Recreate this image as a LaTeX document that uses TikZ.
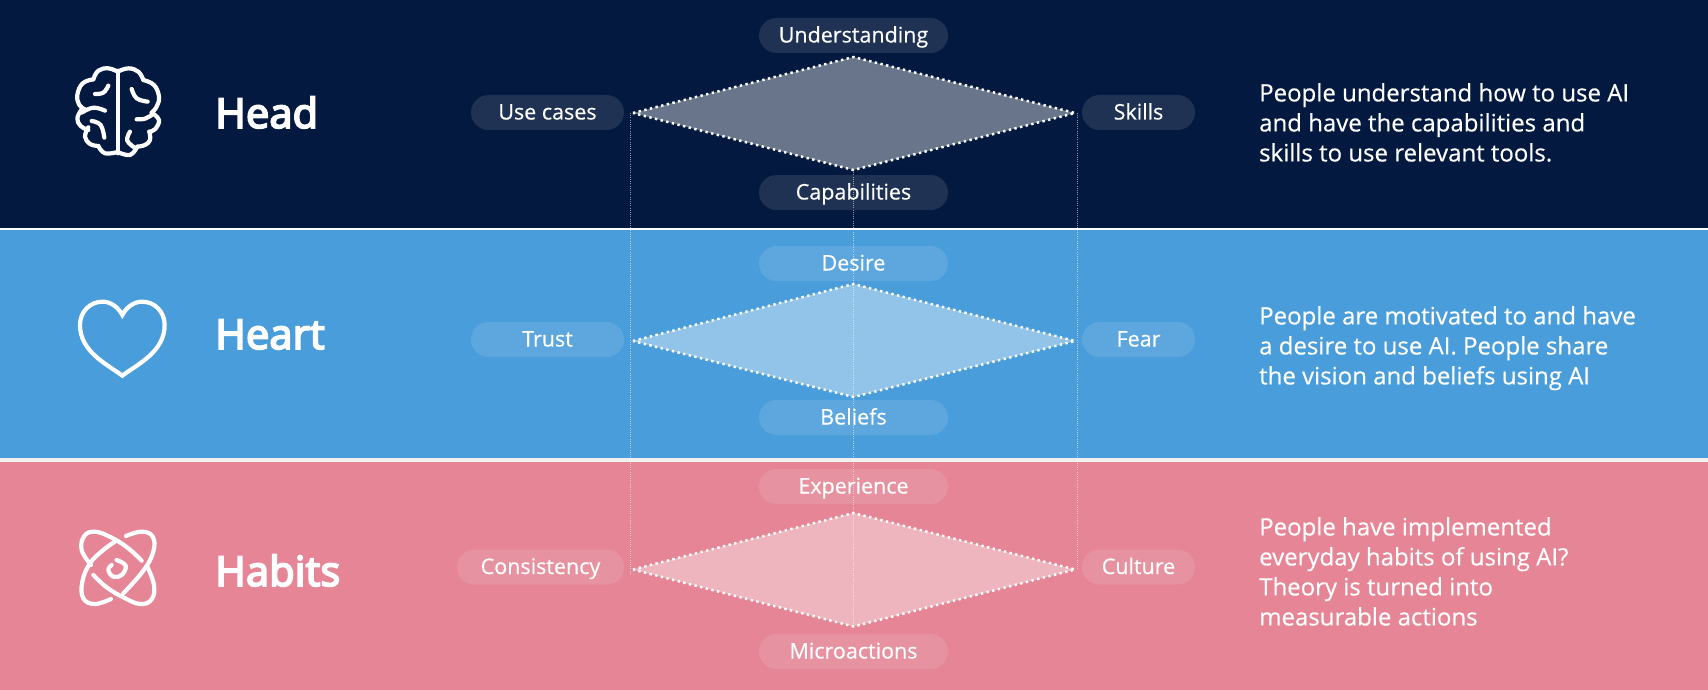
\documentclass[tikz,border=0pt]{standalone}
\usepackage{fontspec}
\newfontfamily\headfont[FakeBold=4]{Noto Sans}
\newfontfamily\bodyfont[FakeBold=0.4]{Open Sans}
\definecolor{navyband}{HTML}{04193F}
\definecolor{blueband}{HTML}{4A9DDB}
\definecolor{pinkband}{HTML}{E58595}
\definecolor{gapcolor}{HTML}{F0F0EE}
\tikzset{
  pill/.style={fill=white,fill opacity=.11,text opacity=1,text=white,rounded corners=17.5pt,minimum height=35pt,inner sep=0pt,text height=17pt,text depth=3pt,font=\bodyfont\fontsize{21.5}{24}\selectfont},
  widepill/.style={pill,minimum width=189pt},
  sidepill/.style={pill,minimum width=153pt},
  shortpill/.style={pill,minimum width=113pt},
  heading/.style={text=white,anchor=base west,inner sep=0pt,font=\headfont\fontsize{41.5}{46}\selectfont},
  description/.style={text=white,anchor=north west,inner sep=0pt,align=left,font=\bodyfont\fontsize{24}{30}\selectfont},
  kite/.style={fill=white,fill opacity=.4,draw=white,draw opacity=1,line width=2.5pt,dash pattern=on 2.4pt off 3.4pt},
  guide/.style={draw=white,draw opacity=.55,line width=.8pt,dash pattern=on 1pt off 1.2pt},
  icon/.style={draw=white,line width=4.2pt,line cap=round,line join=round}
}
\begin{document}
\begin{tikzpicture}[x=1pt,y=-1pt]
\useasboundingbox (0,0) rectangle (1708,690);
% bands
\fill[white] (0,0) rectangle (1708,690);
\fill[navyband] (0,0) rectangle (1708,228);
\fill[blueband] (0,230) rectangle (1708,458);
\fill[gapcolor] (0,458) rectangle (1708,462);
\fill[pinkband] (0,462) rectangle (1708,690);
% kite corners
\foreach \n/\t/\m/\b in {a/57/113/170,b/284/341/397,c/513/569.5/626.5}{
  \coordinate (\n L) at (633,\m);
  \coordinate (\n T) at (853.5,\t);
  \coordinate (\n R) at (1075,\m);
  \coordinate (\n B) at (853.5,\b);
}
\coordinate (leftTop) at (630.5,113);
\coordinate (leftEnd) at (630.5,573);
\coordinate (rightTop) at (1077.5,113);
\coordinate (rightEnd) at (1077.5,570);
% kites
\path[kite] (aL) -- (aT) -- (aR) -- (aB) -- cycle;
\path[kite] (bL) -- (bT) -- (bR) -- (bB) -- cycle;
\path[kite] (cL) -- (cT) -- (cR) -- (cB) -- cycle;
% pills
\node[widepill] (understanding) at (853.5,35.5) {Understanding};
\node[widepill] (capabilities) at (853.5,192.5) {Capabilities};
\node[sidepill] (usecases) at (547.5,112.5) {Use cases};
\node[shortpill] (skills) at (1138.5,112.5) {Skills};
\node[widepill] (desire) at (853.5,263.5) {Desire};
\node[widepill] (beliefs) at (853.5,417.5) {Beliefs};
\node[sidepill] (trust) at (547.5,339.5) {Trust};
\node[shortpill] (fear) at (1138.5,339.5) {Fear};
\node[widepill] (experience) at (853.5,486.5) {Experience};
\node[widepill] (microactions) at (853.5,651.5) {Microactions};
\node[pill,minimum width=167pt] (consistency) at (540.5,567) {Consistency};
\node[shortpill] (culture) at (1138.5,567) {Culture};
% guides
\draw[guide] (leftTop) -- (leftEnd);
\draw[guide] (aB) -- (cB);
\draw[guide] (rightTop) -- (rightEnd);
% headings
\node[heading] (head) at (215,128) {Head};
\node[heading] (heart) at (215,349) {Heart};
\node[heading] (habits) at (215,586) {Habits};
% descriptions
\node[description] (dhead) at (1259,83) {People understand how to use AI\\and have the capabilities and\\skills to use relevant tools.};
\node[description] (dheart) at (1259,306) {People are motivated to and have\\a desire to use AI. People share\\the vision and beliefs using AI};
\node[description] (dhabits) at (1259,517) {People have implemented\\everyday habits of using AI?\\Theory is turned into\\measurable actions};
% brain icon
\begin{scope}[shift={(40,40)},x=.3333pt,y=-.3333pt,icon]
\draw (233,92) -- (233,340);
\draw plot[smooth,tension=.7] coordinates {(233,95) (205,85) (175,92) (160,118)};
\draw plot[smooth,tension=.7] coordinates {(160,118) (128,130) (112,165) (118,195) (135,208)};
\draw plot[smooth,tension=.7] coordinates {(125,208) (112,235) (122,258) (145,270)};
\draw plot[smooth,tension=.7] coordinates {(145,262) (135,290) (150,312) (175,318)};
\draw plot[smooth,tension=.7] coordinates {(175,318) (195,340) (233,336)};
\draw plot[smooth,tension=.7] coordinates {(233,95) (265,85) (295,95) (310,120)};
\draw plot[smooth,tension=.7] coordinates {(310,120) (342,135) (357,170) (350,200) (335,218)};
\draw plot[smooth,tension=.7] coordinates {(335,218) (357,240) (345,268) (328,275)};
\draw plot[smooth,tension=.7] coordinates {(328,275) (330,300) (315,315) (292,320)};
\draw plot[smooth,tension=.7] coordinates {(292,320) (270,345) (233,336)};
\draw plot[smooth,tension=.7] coordinates {(165,162) (190,158) (205,137)};
\draw plot[smooth,tension=.7] coordinates {(275,147) (290,175) (323,185)};
\draw plot[smooth,tension=.7] coordinates {(290,238) (315,236) (335,225)};
\draw plot[smooth,tension=.7] coordinates {(125,218) (160,203) (195,212)};
\draw plot[smooth,tension=.7] coordinates {(155,243) (182,255) (193,293)};
\draw plot[smooth,tension=.7] coordinates {(270,275) (262,302) (287,325)};
\end{scope}
% heart icon
\begin{scope}[shift={(40,270)},x=.3333pt,y=-.3333pt,icon]
\draw[line cap=butt,line join=miter] (247,317) .. controls (200,282) and (120,245) .. (120,165)
  .. controls (120,125) and (150,95) .. (188,95)
  .. controls (212,95) and (235,112) .. (247,135)
  .. controls (259,112) and (282,95) .. (306,95)
  .. controls (344,95) and (374,125) .. (374,165)
  .. controls (374,245) and (294,282) .. (247,317) -- cycle;
\end{scope}
% atom icon
\begin{scope}[shift={(40,500)},x=.3333pt,y=-.3333pt,icon]
\draw plot[smooth,tension=.7] coordinates {(305,182) (265,145) (215,113) (165,95) (133,108) (125,150) (153,195)};
\draw plot[smooth,tension=.7] coordinates {(160,225) (200,262) (250,292) (300,312) (335,298) (342,255) (322,200)};
\draw plot[smooth,tension=.7] coordinates {(258,108) (305,95) (338,110) (340,155) (310,212) (250,280)};
\draw plot[smooth,tension=.7] coordinates {(213,297) (165,312) (130,295) (127,245) (150,190) (190,150) (225,125)};
\draw plot[smooth,tension=.7] coordinates {(230,180) (257,197) (245,225) (220,230) (205,210) (215,195)};
\end{scope}
\end{tikzpicture}
\end{document}
